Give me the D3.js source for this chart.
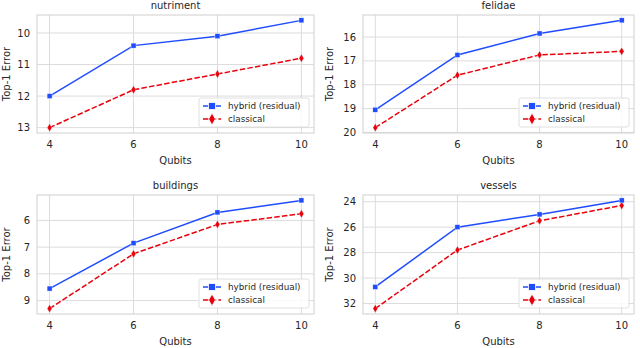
<!DOCTYPE html>
<html>
<head>
<meta charset="utf-8">
<script src="https://cdn.jsdelivr.net/npm/d3@7"></script>
<style>
  body { margin: 0; background: #fff; }
  svg { font-family: "DejaVu Sans", sans-serif; }
</style>
</head>
<body>
<svg id="chart" width="640" height="348"></svg>
<script>
// Four small panels: top-1 error vs number of qubits, hybrid vs classical.
const qubits = [4, 6, 8, 10];

const titles = ['nutriment', 'felidae', 'buildings', 'vessels'];

const hybrid = [
    [12.0, 10.4, 10.1, 9.6],
    [19.05, 16.75, 15.85, 15.3],
    [8.55, 6.85, 5.7, 5.25],
    [30.7, 26.0, 25.0, 23.9]
];
const classical = [
    [13.0, 11.8, 11.3, 10.8],
    [19.8, 17.6, 16.75, 16.6],
    [9.3, 7.25, 6.15, 5.75],
    [32.4, 27.8, 25.5, 24.3]
];

const yTicks = [
    [10, 11, 12, 13],
    [16, 17, 18, 19, 20],
    [6, 7, 8, 9],
    [24, 26, 28, 30, 32]
];

const seriesNames = ['hybrid (residual)', 'classical'];

const BLUE = '#1f4cff';
const RED = '#e8000b';
const GRID = '#dcdcdc';
const TEXT = '#262626';

// plot-area boxes [x0, y0, x1, y1]
const boxes = [
    [37, 15, 314, 133],
    [363, 15, 634, 133],
    [37, 195, 314, 314],
    [363, 195, 634, 314]
];
const yLabelOffset = [27, 30, 27, 30];

const svg = d3.select('#chart');

function padded(lo, hi) {
    const m = (hi - lo) * 0.05;
    return [lo - m, hi + m];
}

titles.forEach((title, i) => {
    const [x0, y0, x1, y1] = boxes[i];
    const g = svg.append('g');

    const x = d3.scaleLinear().domain(padded(4, 10)).range([x0, x1]);
    const all = hybrid[i].concat(classical[i]);
    // inverted y: lower error at the top
    const y = d3.scaleLinear().domain(padded(d3.min(all), d3.max(all))).range([y0, y1]);

    // grid
    g.selectAll('line.vg').data(qubits).join('line')
        .attr('x1', d => x(d)).attr('x2', d => x(d))
        .attr('y1', y0).attr('y2', y1)
        .attr('stroke', GRID).attr('stroke-width', 1);
    g.selectAll('line.hg').data(yTicks[i]).join('line')
        .attr('x1', x0).attr('x2', x1)
        .attr('y1', d => y(d)).attr('y2', d => y(d))
        .attr('stroke', GRID).attr('stroke-width', 1);

    g.append('rect')
        .attr('x', x0).attr('y', y0)
        .attr('width', x1 - x0).attr('height', y1 - y0)
        .attr('fill', 'none').attr('stroke', '#d0d0d0').attr('stroke-width', 1);

    // tick labels
    g.selectAll('text.xt').data(qubits).join('text')
        .attr('x', d => x(d)).attr('y', y1 + 15)
        .attr('text-anchor', 'middle').attr('font-size', 10).attr('fill', TEXT)
        .text(d => d);
    g.selectAll('text.yt').data(yTicks[i]).join('text')
        .attr('x', x0 - 7).attr('y', d => y(d) + 3.6)
        .attr('text-anchor', 'end').attr('font-size', 10).attr('fill', TEXT)
        .text(d => d);

    // titles and axis labels
    g.append('text')
        .attr('x', (x0 + x1) / 2).attr('y', y0 - 6)
        .attr('text-anchor', 'middle').attr('font-size', 10).attr('fill', TEXT)
        .text(title);
    g.append('text')
        .attr('x', (x0 + x1) / 2).attr('y', y1 + 31)
        .attr('text-anchor', 'middle').attr('font-size', 10).attr('fill', TEXT)
        .text('Qubits');
    g.append('text')
        .attr('transform', `translate(${x0 - yLabelOffset[i]},${(y0 + y1) / 2}) rotate(-90)`)
        .attr('text-anchor', 'middle').attr('font-size', 10).attr('fill', TEXT)
        .text('Top-1 Error');

    const line = d3.line().x((d, k) => x(qubits[k])).y(d => y(d));

    // classical (dashed, diamonds)
    g.append('path').datum(classical[i])
        .attr('d', line).attr('fill', 'none')
        .attr('stroke', RED).attr('stroke-width', 1.5)
        .attr('stroke-dasharray', '5.5,2.2');
    g.selectAll('path.cm').data(classical[i]).join('path')
        .attr('d', d3.symbol(d3.symbolDiamond, 20))
        .attr('transform', (d, k) => `translate(${x(qubits[k])},${y(d)})`)
        .attr('fill', RED).attr('stroke', '#fff').attr('stroke-width', 0.4);

    // hybrid (solid, squares)
    g.append('path').datum(hybrid[i])
        .attr('d', line).attr('fill', 'none')
        .attr('stroke', BLUE).attr('stroke-width', 1.5);
    g.selectAll('rect.hm').data(hybrid[i]).join('rect')
        .attr('x', (d, k) => x(qubits[k]) - 2.5).attr('y', d => y(d) - 2.5)
        .attr('width', 5).attr('height', 5)
        .attr('fill', BLUE).attr('stroke', '#fff').attr('stroke-width', 0.4);

    // legend, lower right
    const lw = 110, lh = 29;
    const lx = x1 - 5 - lw, ly = y1 - 6 - lh;
    const lg = g.append('g').attr('transform', `translate(${lx},${ly})`);
    lg.append('rect').attr('width', lw).attr('height', lh).attr('rx', 2)
        .attr('fill', '#fff').attr('fill-opacity', 0.85)
        .attr('stroke', '#d8d8d8').attr('stroke-width', 0.8);
    seriesNames.forEach((name, k) => {
        const cy = 8 + k * 13;
        const col = k === 0 ? BLUE : RED;
        lg.append('line').attr('x1', 4).attr('x2', 22).attr('y1', cy).attr('y2', cy)
            .attr('stroke', col).attr('stroke-width', 1.5)
            .attr('stroke-dasharray', k === 0 ? null : '5.5,2.2');
        if (k === 0) {
            lg.append('rect').attr('x', 9.5).attr('y', cy - 3.5).attr('width', 7).attr('height', 7)
                .attr('fill', col).attr('stroke', '#fff').attr('stroke-width', 0.8);
        } else {
            lg.append('path').attr('d', d3.symbol(d3.symbolDiamond, 40))
                .attr('transform', `translate(13,${cy})`)
                .attr('fill', col).attr('stroke', '#fff').attr('stroke-width', 0.8);
        }
        lg.append('text').attr('x', 29).attr('y', cy + 3.2)
            .attr('font-size', 8.8).attr('fill', TEXT).text(name);
    });
});
</script>
</body>
</html>
